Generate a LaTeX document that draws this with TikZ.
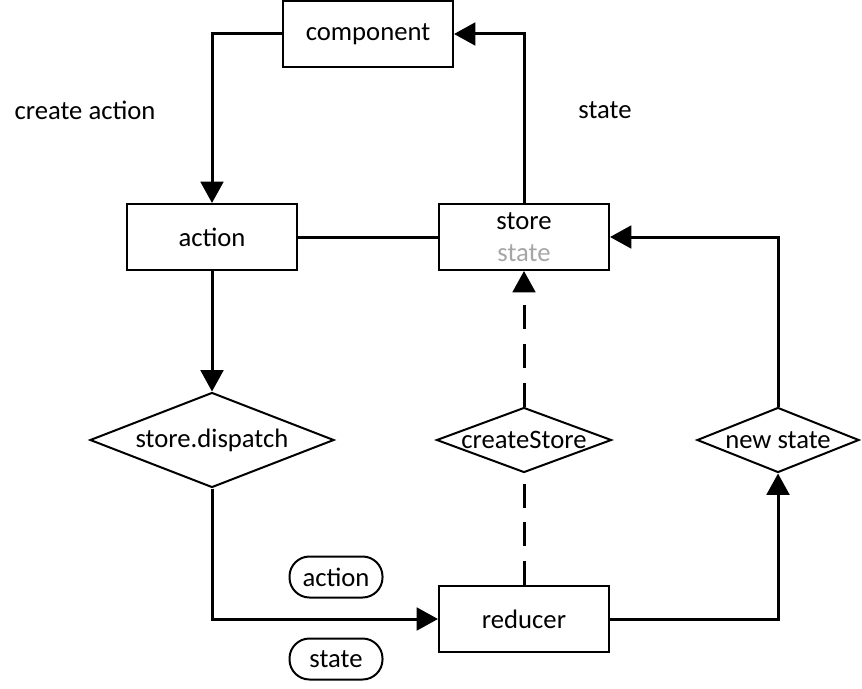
\documentclass[tikz,border=0pt]{standalone}
\usepackage{fontspec}
\setmainfont{Carlito}
\usetikzlibrary{shapes.geometric,arrows.meta}
\definecolor{stategray}{RGB}{166,166,166}

\begin{document}
\begin{tikzpicture}[x=0.75pt, y=-0.75pt,
    every node/.style={font=\fontsize{20}{24.5}\selectfont},
    boxnode/.style={rectangle, draw=black, line width=1.5pt, minimum width=127.5pt, minimum height=49.5pt, align=center},
    decisionnode/.style 2 args={diamond, draw=black, line width=1.5pt, inner sep=0pt, minimum width=#1, minimum height=#2},
    pillnode/.style={rectangle, rounded corners=15pt, draw=black, line width=1.5pt, minimum width=69.75pt, minimum height=30.75pt},
    flow/.style={line width=2.25pt, -{Triangle[length=16pt, width=17pt]}},
    plainline/.style={line width=2.25pt},
    dashline/.style={line width=2.25pt, dash pattern=on 18pt off 11pt}
   ]
   \useasboundingbox (0,0) rectangle (862,688);

   \node[boxnode]  (component)   at (368,34)  {component};
   \node[boxnode]  (action)      at (212,237) {action};
   \node[boxnode]  (store)       at (524,237) {store\\\textcolor{stategray}{state}};
   \node[boxnode]  (reducer)     at (524,619) {reducer};
   \node[decisionnode={183pt}{71.25pt}, label=center:store.dispatch]  (dispatch)    at (212,440) {};
   \node[decisionnode={131.25pt}{48.75pt}, label=center:createStore]  (createStore) at (524,440) {};
   \node[decisionnode={121.5pt}{48.75pt}, label=center:new state]     (newstate)    at (778,440) {};
   \node[pillnode] (actionpill)  at (336,577) {action};
   \node[pillnode] (statepill)   at (336,659) {state};
   \node (createlabel) at (85,110)  {create action};
   \node (statelabel)  at (605,110) {state};

  \draw[flow] (component.west) -| (action.north);
  \draw[flow] (store.north) |- (component.east);
  \draw[plainline] (action.east) -- (store.west);
  \draw[flow] (action.south) -- (dispatch.north);
  \draw[flow] (dispatch.south) |- (reducer.west);
  \draw[dashline] (reducer.north) -- (createStore.south);
  \draw[dashline, -{Triangle[length=16pt, width=17pt]}] (createStore.north) -- (store.south);
  \draw[flow] (reducer.east) -| (newstate.south);
  \draw[flow] (newstate.north) |- (store.east);
 \end{tikzpicture}
\end{document}
